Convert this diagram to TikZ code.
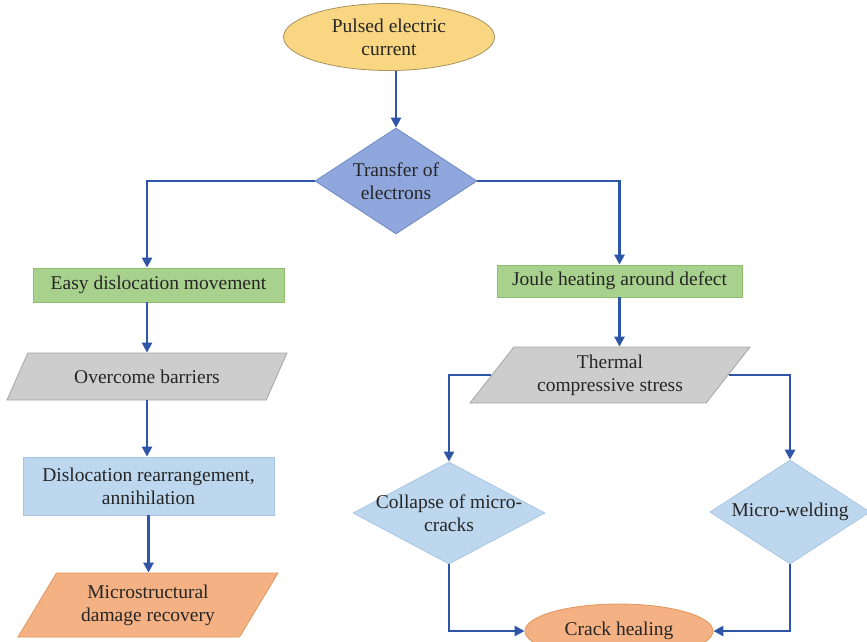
\documentclass[tikz,border=0pt]{standalone}
\usepackage{fontspec}
\setmainfont{Liberation Serif}
\usepackage{xcolor}
\usepackage{tikz}
\usetikzlibrary{arrows.meta,positioning,shapes.geometric}
\definecolor{inkgray}{HTML}{262626}
\definecolor{flowblue}{HTML}{2F56A6}
\definecolor{goldfill}{HTML}{F9D681}
\definecolor{golddraw}{HTML}{A8905E}
\definecolor{midblue}{HTML}{8FA7DC}
\definecolor{midbluedraw}{HTML}{7089C6}
\definecolor{greenfill}{HTML}{A9D18E}
\definecolor{greendraw}{HTML}{8DBE70}
\definecolor{grayfill}{HTML}{CDCDCD}
\definecolor{graydraw}{HTML}{A5A5A5}
\definecolor{palefill}{HTML}{BDD7EE}
\definecolor{paledraw}{HTML}{A8C5E4}
\definecolor{peach}{HTML}{F4B183}
\definecolor{peachdraw}{HTML}{E2955C}
\tikzset{
  txt/.style    ={font=\fontsize{19.5}{23}\selectfont,text=inkgray,align=center},
  oval/.style   ={ellipse,txt,inner sep=0pt,line width=0.8pt},
  decide/.style ={diamond,txt,inner xsep=-30pt,inner ysep=-12pt,line width=0.8pt},
  rectbox/.style={rectangle,txt,inner sep=2pt,line width=0.8pt},
  slant/.style  ={trapezium,txt,inner sep=2pt,line width=0.8pt,
                  trapezium stretches body},
  flow/.style   ={-{Triangle[length=10pt,width=10pt]},line width=2.9pt,draw=flowblue}
}

\begin{document}
\begin{tikzpicture}[x=1pt,y=-1pt]
  \clip (0,0) rectangle (867,641);
  \node[oval,fill=goldfill,draw=golddraw,minimum width=211pt,minimum height=67pt] (pulse) at (389,37) {Pulsed electric\\current};
  \node[decide,fill=midblue,draw=midbluedraw,minimum width=162pt,minimum height=106pt] (trans) at (396,181) {Transfer of\\electrons};
  \node[rectbox,fill=greenfill,draw=greendraw,minimum width=251pt,minimum height=34pt] (ease) at (158.5,285) {Easy dislocation movement};
  \node[slant,fill=grayfill,draw=graydraw,minimum width=280pt,minimum height=47pt,
        trapezium left angle=40.5,trapezium right angle=139.5] (over) at (147,376.5) {Overcome barriers};
  \node[rectbox,fill=palefill,draw=paledraw,minimum width=251pt,minimum height=58pt] (rearr) at (148.5,486) {Dislocation rearrangement,\\annihilation};
  \node[slant,fill=peach,draw=peachdraw,minimum width=260pt,minimum height=64pt,
        trapezium left angle=49.3,trapezium right angle=130.7] (recov) at (148,605) {Microstructural\\damage recovery};
  \node[rectbox,fill=greenfill,draw=greendraw,minimum width=245pt,minimum height=32pt] (joule) at (619.5,281) {Joule heating around defect};
  \node[slant,fill=grayfill,draw=graydraw,minimum width=280pt,minimum height=56pt,
        trapezium left angle=45.5,trapezium right angle=134.5] (therm) at (610,375) {Thermal\\compressive stress};
  \node[decide,fill=palefill,draw=paledraw,minimum width=192pt,minimum height=102pt] (coll) at (449,513) {Collapse of micro-\\cracks};
  \node[decide,fill=palefill,draw=paledraw,minimum width=160pt,minimum height=104pt] (weld) at (790,512) {Micro-welding};
  \node[oval,fill=peach,draw=peachdraw,minimum width=188pt,minimum height=54pt] (heal) at (619,631) {Crack healing};

  \draw[flow] (pulse.south -| trans.north) -- (trans.north);
  \draw[flow] (trans.west) -| (over.north |- ease.north);
  \draw[flow] (trans.east) -| (joule.north);
  \draw[flow] (ease.south -| over.north) -- (over.north);
  \draw[flow] (over.south) -- (over.south |- rearr.north);
  \draw[flow] (rearr.south) -- (rearr.south |- recov.north);
  \draw[flow] (joule.south) -- (joule.south |- therm.north);
  \draw[flow] (therm.west) -| (coll.north);
  \draw[flow] (therm.east) -| (weld.north);
  \draw[flow] (coll.south) |- (heal.west);
  \draw[flow] (weld.south) |- (heal.east);
\end{tikzpicture}
\end{document}
